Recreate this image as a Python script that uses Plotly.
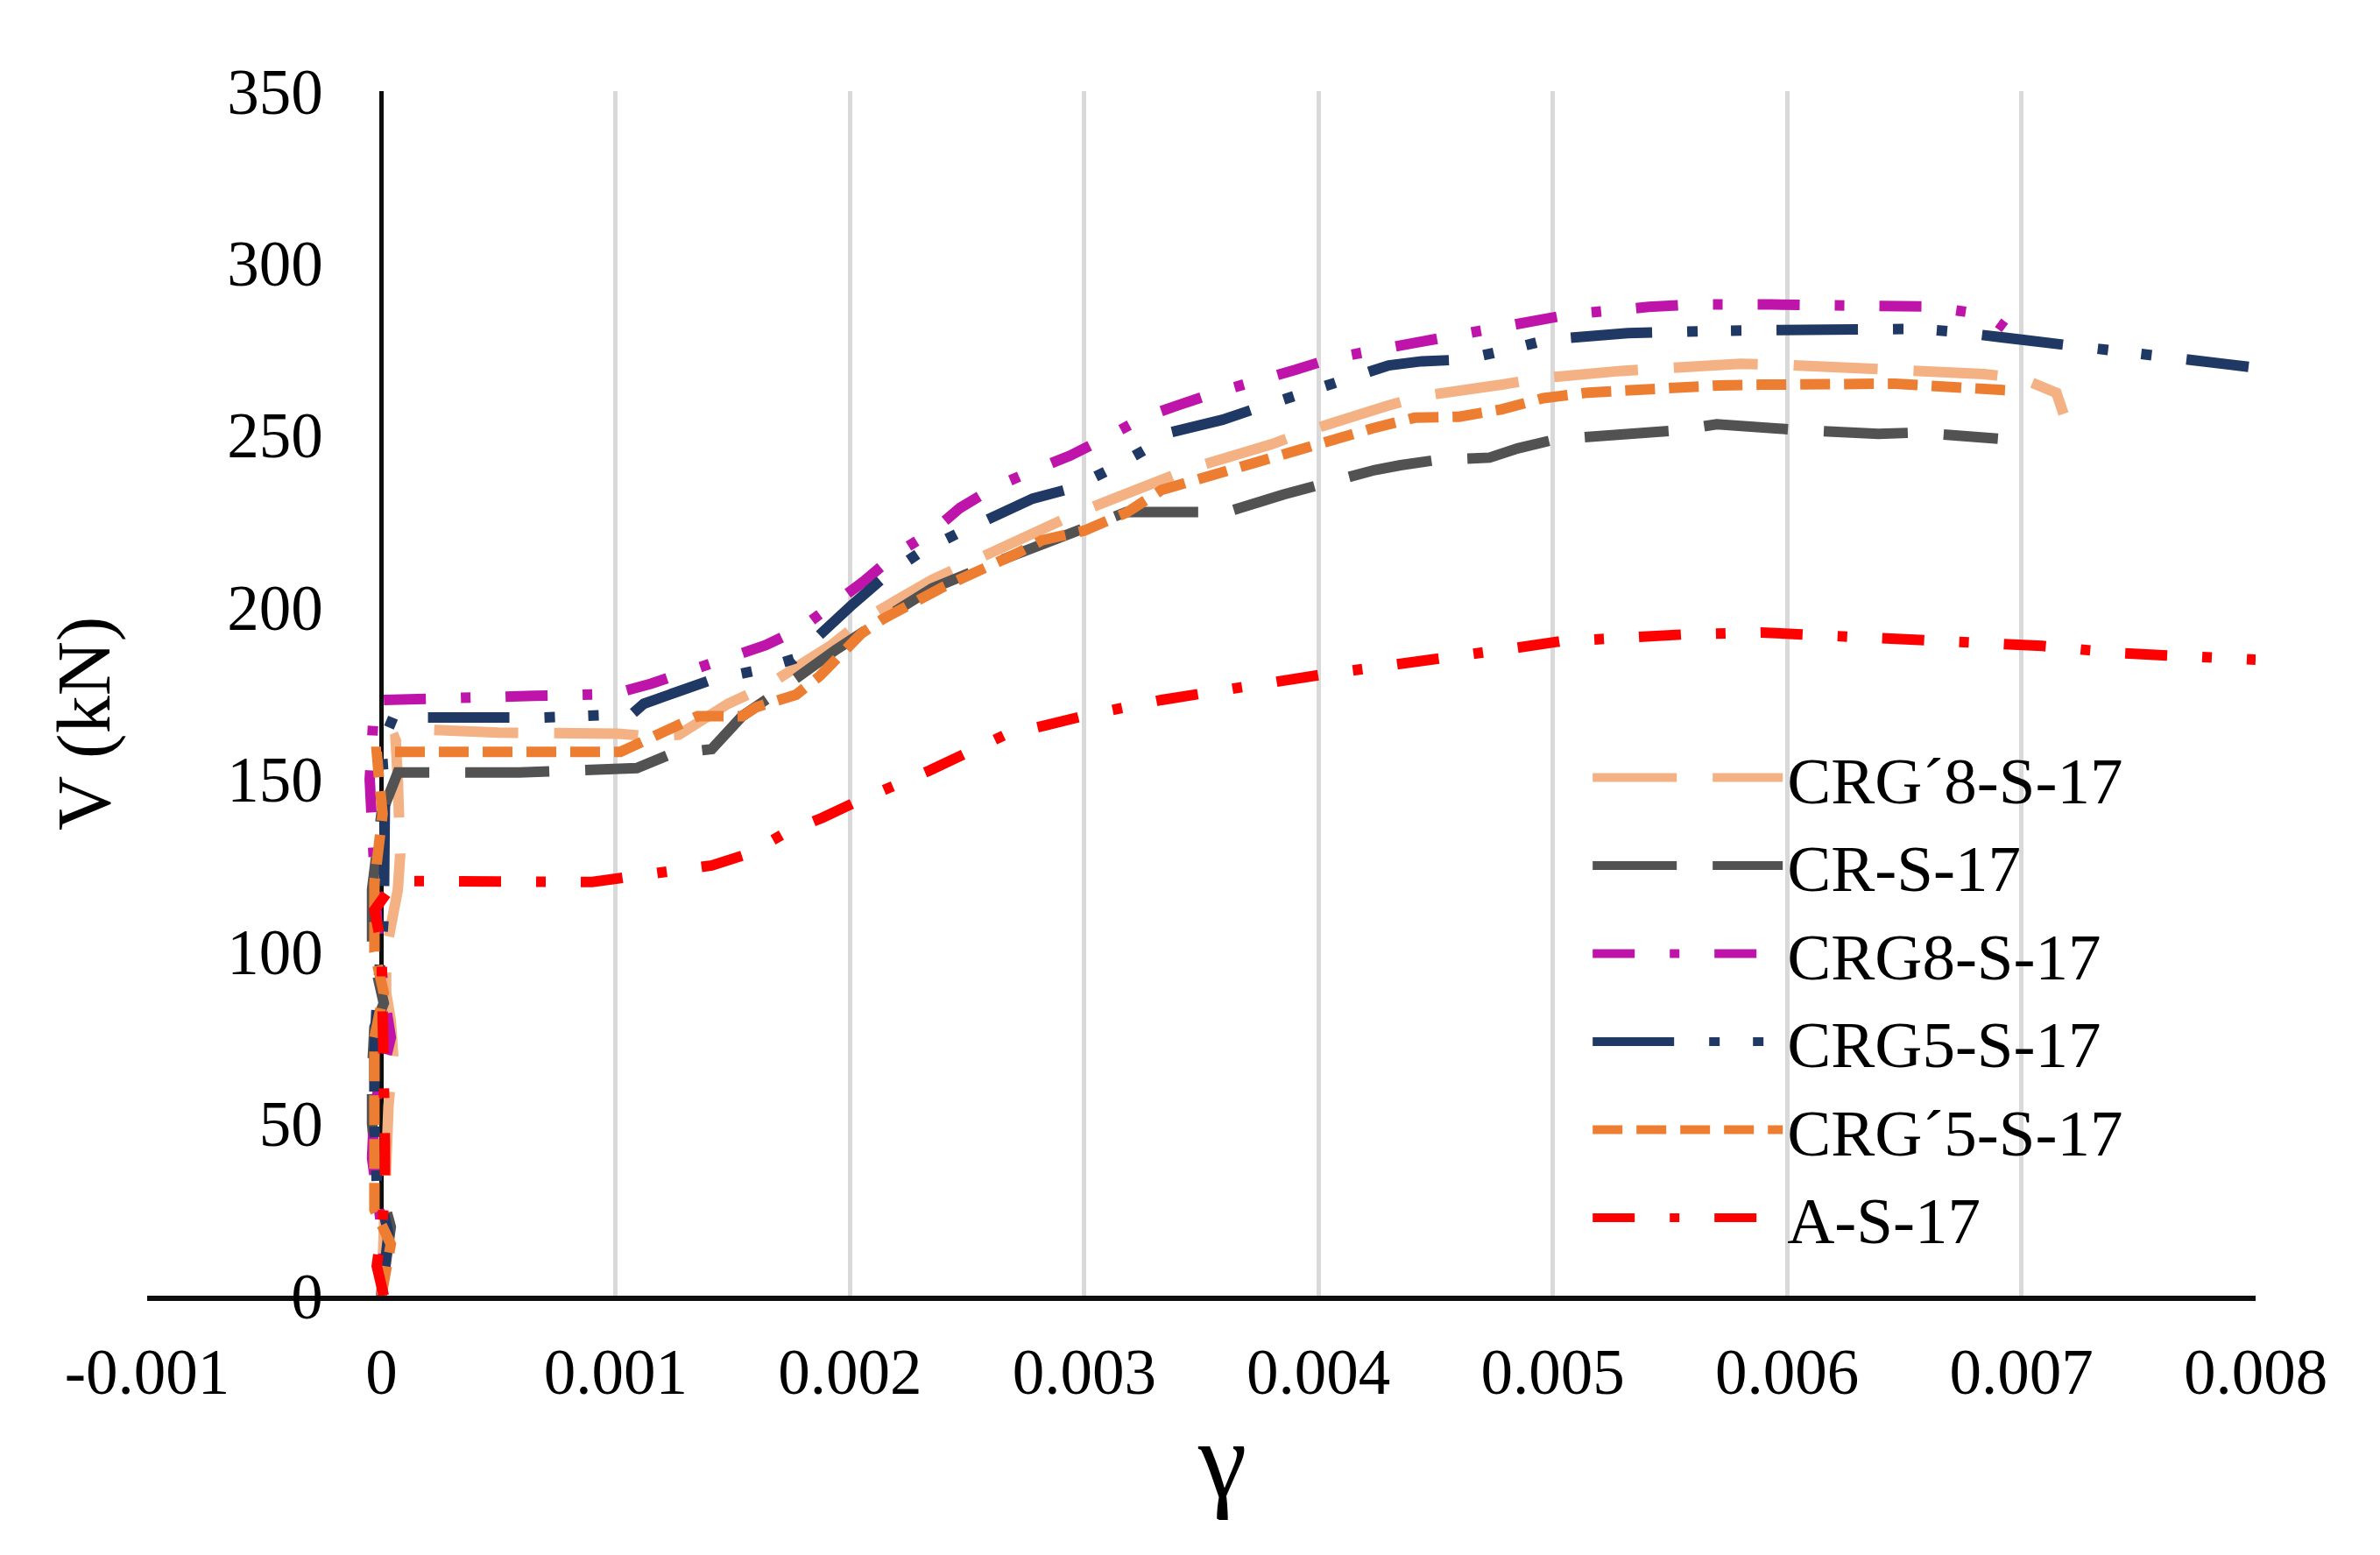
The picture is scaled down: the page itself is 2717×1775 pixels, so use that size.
import plotly.graph_objects as go

# ---------------- data ----------------
x_ticks = [-0.001, 0, 0.001, 0.002, 0.003, 0.004, 0.005, 0.006, 0.007, 0.008]
x_tick_labels = ["-0.001", "0", "0.001", "0.002", "0.003", "0.004", "0.005", "0.006", "0.007", "0.008"]
y_ticks = [0, 50, 100, 150, 200, 250, 300, 350]
x_title = "γ"
y_title = "V (kN)"

names = ["CRG´8-S-17", "CR-S-17", "CRG8-S-17", "CRG5-S-17", "CRG´5-S-17", "A-S-17"]

crg8p_x = [0, 0.000005, 0.00001, 0.00002, 0.00003, 0.00005, 0.00004, 0.00002, 0.00002, 0.00007, 0.00008,
           0.00007, 0.00006, 0.000155, 0.0005, 0.00101, 0.00115, 0.00127, 0.00148, 0.00164, 0.00192,
           0.00206, 0.00235, 0.00251, 0.00283, 0.00298, 0.00331, 0.00346, 0.0038, 0.00396, 0.00429,
           0.00444, 0.00479, 0.00495, 0.00529, 0.00547, 0.0058, 0.00598, 0.00632, 0.00649, 0.00684,
           0.007, 0.00715, 0.00718]
crg8p_v = [0, 10, 25, 40, 55, 70, 80, 88, 100, 118, 128,
           150, 162, 164.6, 163.6, 163.3, 162.5, 163, 172, 177, 189,
           196.6, 208, 213, 223.3, 227.7, 236.5, 240.5, 247.4, 251.4, 258.5,
           261.4, 264.8, 266.6, 268.7, 269.6, 270.8, 270.5, 269.6, 269, 267.8,
           266.6, 262.3, 256.2]

cr_x = [0, 0.00004, -0.00002, -0.00004, -0.00004, -0.00003, 0.00001, -0.00004, -0.00004, 0.0, 0.00007,
        0.00059, 0.00109, 0.00124, 0.00141, 0.00154, 0.00166, 0.00194, 0.00215, 0.00235, 0.00267,
        0.00286, 0.00301, 0.00318, 0.00335, 0.00351, 0.00361, 0.00385, 0.00401, 0.00424, 0.00435,
        0.00451, 0.00473, 0.00485, 0.00501, 0.00536, 0.00553, 0.0057, 0.00588, 0.00604, 0.00639,
        0.00656, 0.0069]
cr_v = [0, 20, 35, 50, 65, 78, 85, 100, 118, 140, 152,
        152, 153.3, 157.5, 158.8, 168.4, 174, 187.7, 197, 205.5, 214.4,
        219.5, 222.9, 227.7, 227.7, 227.7, 227.7, 232.8, 236, 239.9, 241.3,
        242.9, 243.5, 246.2, 248.8, 250.6, 251.4, 253.2, 252, 251.6, 250.4,
        250.8, 249]

crg8_x = [0, 0.00001, -0.00004, -0.00003, 0.00004, 0.00001, -0.00002, -0.00004, -0.00005, -0.00004, -0.00003,
          0.00065, 0.00099, 0.00115, 0.00131, 0.00164, 0.00179, 0.00206, 0.0022, 0.00235, 0.00247,
          0.00262, 0.00279, 0.00294, 0.0031, 0.00326, 0.0034, 0.00357, 0.0039, 0.00406, 0.0044,
          0.00457, 0.0049, 0.00507, 0.00541, 0.00559, 0.00593, 0.0061, 0.00644, 0.00661, 0.00679,
          0.00686, 0.00693]
crg8_v = [0, 15, 40, 55, 75, 88, 110, 130, 150, 161, 173,
          174.3, 174.8, 177.8, 181.5, 189, 193.9, 207.6, 215.7, 222, 228.9,
          235, 240, 244.1, 249.6, 255.4, 258.7, 262.6, 269, 272.4, 276.7,
          279, 282.8, 285.1, 287.3, 288, 288, 288, 288, 287.4, 285.6,
          284.8, 281.2]

crg5_x = [0, 0.00003, -0.00002, -0.00003, -0.00003, -0.00002, 0.00001, 0.00001, 0.000015, 0.0, 0.00005,
          0.00069, 0.00107, 0.00112, 0.00125, 0.00141, 0.00159, 0.00176, 0.00201, 0.00215, 0.0023,
          0.00246, 0.00278, 0.00295, 0.00311, 0.00327, 0.00333, 0.00359, 0.00376, 0.00394, 0.00411,
          0.0043, 0.00444, 0.00462, 0.0048, 0.00498, 0.00532, 0.00549, 0.00568, 0.00586, 0.00621,
          0.00638, 0.00657, 0.00674, 0.00709, 0.00726, 0.00745, 0.00762, 0.00797]
crg5_v = [0, 18, 33, 50, 70, 85, 110, 128, 145, 160, 168,
          168, 169, 172, 175.5, 179, 181.5, 185, 200.8, 209, 216,
          221.5, 231.6, 234.7, 240.1, 246.2, 250.2, 254.5, 258.4, 262.4, 266,
          270.3, 271.5, 272, 274.7, 277.8, 279.7, 280.2, 280.3, 280.5, 280.5,
          280.9, 280.9, 279.9, 277.1, 275.7, 274.2, 272.6, 269.9]

crg5p_x = [0, 0.00004, -0.00003, -0.00003, -0.00003, -0.00003, 0.00001, -0.00003, -0.00003, 0.000005, -0.00001,
           -0.00002, 0.0005, 0.00102, 0.00108, 0.00117, 0.00125, 0.00135, 0.00141, 0.00154, 0.0016,
           0.00172, 0.00177, 0.00187, 0.00192, 0.002, 0.00205, 0.00214, 0.0024, 0.00271, 0.00282,
           0.003, 0.00318, 0.00333, 0.00351, 0.00369, 0.00387, 0.00405, 0.00423, 0.00441, 0.0046,
           0.00478, 0.00496, 0.00515, 0.00533, 0.00552, 0.00571, 0.00589, 0.00608, 0.00627, 0.00646,
           0.00698]
crg5p_v = [0, 15, 25, 45, 60, 75, 88, 100, 120, 140, 150,
           158, 158, 158, 159.9, 162.9, 165.6, 168.4, 168.4, 168.4, 171,
           173.2, 174.6, 180, 183.5, 188.4, 192.5, 196.6, 206, 215.6, 219.5,
           222.3, 227.5, 234.1, 237.7, 241.7, 245, 248.6, 252, 255.1, 255.4,
           257.5, 260.8, 262.4, 263.2, 263.8, 264.5, 264.7, 264.7, 265, 265,
           262.9]

as_x = [0.00001, -0.00002, 0.000003, 0.000015, 0.000015, 0.000013, 0.00001, 0.00001, 0.00001, 0.0, -0.00003,
        0.00006, 0.0009, 0.00107, 0.00141, 0.00157, 0.00173, 0.00188, 0.00203, 0.00234, 0.0025,
        0.00266, 0.00284, 0.003, 0.00333, 0.00351, 0.00384, 0.00401, 0.00434, 0.00452, 0.00485,
        0.00503, 0.00537, 0.00555, 0.00589, 0.00606, 0.00639, 0.00657, 0.00691, 0.00709, 0.00742,
        0.0076, 0.008]
as_v = [0, 8.6, 20, 32, 44, 55, 67, 79, 90, 102, 112,
        120.5, 120.2, 121.9, 125, 128.5, 134.7, 138.8, 143.6, 152.6, 157.8,
        162.9, 165.8, 168.5, 173.1, 175.3, 178.6, 180.4, 183.8, 185.2, 188.3,
        190.1, 191.5, 192.1, 192.7, 192.1, 191.3, 190.6, 189.7, 188.8, 186.7,
        186, 184.8]

# ---------------- styles ----------------
LONG = "96px,41px"
DASHDOT = "48px,40px,11px,40px"
DASHDOTDOT = "93px,40px,12px,38px,12px,40px"
SHORT = "34px,16px"
LW = 12

series = [
    (names[0], crg8p_x, crg8p_v, "#F4B183", LONG),
    (names[1], cr_x, cr_v, "#525252", LONG),
    (names[2], crg8_x, crg8_v, "#BE14AA", DASHDOT),
    (names[3], crg5_x, crg5_v, "#1F3864", DASHDOTDOT),
    (names[4], crg5p_x, crg5p_v, "#ED7D31", SHORT),
    (names[5], as_x, as_v, "#FF0000", DASHDOT),
]

fig = go.Figure()
for name, xs, vs, color, dash in series:
    fig.add_trace(go.Scatter(x=xs, y=vs, mode="lines", name=name,
                             line=dict(color=color, width=LW, dash=dash)))

FONT = "Liberation Serif"
fig.update_layout(
    width=2717, height=1775,
    margin=dict(l=168, r=142, t=104, b=296, autoexpand=False),
    paper_bgcolor="white", plot_bgcolor="white",
    font=dict(family=FONT, color="black", size=73),
    xaxis=dict(range=[-0.001, 0.008], tickvals=x_ticks, ticktext=x_tick_labels,
               showgrid=True, gridcolor="#D9D9D9", gridwidth=5, zeroline=False,
               showline=True, linecolor="#0D0D0D", linewidth=6, ticks="",
               tickfont=dict(size=73), ticklabelstandoff=18, automargin=False,
               layer="below traces"),
    yaxis=dict(range=[0, 350], anchor="free", position=1 / 9, side="left",
               showline=True, linecolor="#0D0D0D", linewidth=5, tickvals=y_ticks, ticks="",
               tickfont=dict(size=73), ticklabelstandoff=50, showgrid=False, zeroline=False,
               automargin=False, layer="below traces"),
    legend=dict(x=0.6835, y=0.4704, xanchor="left", yanchor="top", bgcolor="rgba(0,0,0,0)",
                font=dict(size=75), itemwidth=217),
    showlegend=True,
    annotations=[
        dict(text=x_title, xref="paper", yref="paper", x=0.5098, y=-0.136,
             xanchor="center", yanchor="middle", showarrow=False, font=dict(size=125)),
        dict(text=y_title, xref="paper", yref="paper", x=-0.0299, y=0.4749, textangle=-90,
             xanchor="center", yanchor="middle", showarrow=False, font=dict(size=86)),
    ],
)

fig.write_html("out.html", config={"displayModeBar": False},
               post_script="document.body.style.margin='0px';document.body.style.overflow='hidden';")
